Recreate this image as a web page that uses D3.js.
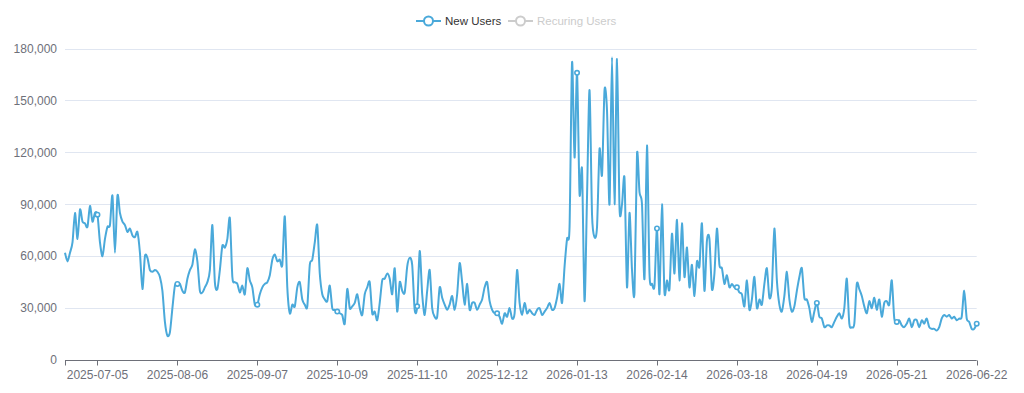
<!DOCTYPE html>
<html>
<head>
<meta charset="utf-8">
<title>New Users</title>
<script src="https://cdn.jsdelivr.net/npm/d3@7"></script>
<style>
  body { margin: 0; background: #fff; }
  #chart { width: 1024px; height: 393px; }
  text { font-family: "Liberation Sans", Arial, sans-serif; }
</style>
</head>
<body>
<div id="chart"></div>
<script>
// daily series, one value per day starting at startDay
var startDay = "2025-06-22";
var seriesNames = ["New Users", "Recuring Users"];
var newUsers = [
  62000,57000,62000,68000,85000,70000,87000,80000,79000,77000,89000,80000,85000,84000,68000,60000,
  70000,77000,78000,95000,62000,95000,85000,80000,78000,74000,76000,72000,71000,74000,62000,41000,
  60000,59000,52000,51000,52000,51000,48000,40000,22000,14000,16000,30000,43000,44000,44000,40000,
  39000,47000,52000,55000,64000,57000,40000,39000,42000,45000,52000,78000,45000,41000,52000,66000,
  65000,70000,82000,48000,45000,44000,39000,43000,38000,53000,46000,42000,32000,32000,38000,42000,
  44000,45000,49000,58000,61000,57000,58000,55000,83000,42000,27000,32000,31000,42000,45000,35000,
  32000,31000,55000,58000,68000,78000,50000,38000,35000,34000,43000,30000,29000,28000,27000,26000,
  21000,41000,30000,31000,33000,38000,30000,26000,38000,42000,45000,27000,28000,23000,33000,46000,
  47000,50000,47000,38000,53000,28000,45000,40000,39000,54000,59000,55000,29000,31000,63000,38000,
  26000,40000,52000,30000,25000,25000,42000,36000,32000,29000,32000,37000,29000,38000,56000,45000,
  32000,44000,29000,33000,33000,29000,32000,35000,42000,45000,34000,29000,27000,27000,25000,21000,
  27000,25000,30000,24000,27000,52000,33000,26000,33000,27000,29000,27000,26000,29000,30000,26000,
  28000,30000,33000,29000,30000,36000,44000,33000,54000,70000,77000,172000,117000,166000,96000,110000,
  34000,95000,156000,84000,71000,77000,122000,107000,156000,144000,90000,175000,90000,174000,88000,90000,
  105000,42000,85000,52000,39000,119000,97000,90000,47000,124000,50000,44000,43000,76000,38000,90000,
  39000,46000,41000,73000,50000,81000,46000,79000,48000,65000,42000,55000,37000,57000,54000,79000,
  40000,69000,70000,41000,50000,76000,55000,53000,44000,49000,42000,44000,42000,42000,39000,38000,
  31000,46000,29000,35000,48000,30000,35000,32000,44000,53000,36000,42000,76000,46000,32000,28000,
  37000,51000,35000,28000,31000,40000,48000,53000,36000,35000,30000,22000,28000,33000,25000,24000,
  19000,20000,20000,19000,22000,25000,27000,24000,30000,47000,21000,19000,21000,44000,41000,37000,
  31000,27000,34000,30000,36000,29000,35000,25000,33000,34000,32000,46000,24000,22000,23000,20000,
  19000,21000,24000,19000,23000,23000,19000,23000,21000,24000,19000,18000,18000,17000,19000,24000,
  26000,25000,26000,24000,25000,23000,24000,25000,40000,24000,22000,18000,18000,21000
];
var xTickLabels = ["2025-07-05","2025-08-06","2025-09-07","2025-10-09","2025-11-10","2025-12-12",
  "2026-01-13","2026-02-14","2026-03-18","2026-04-19","2026-05-21","2026-06-22"];
var yTicks = [0, 30000, 60000, 90000, 120000, 150000, 180000];

var width = 1024, height = 393;
var margin = {top: 48.6, right: 47.3, bottom: 33, left: 65};
var lineColor = "#4aa9da";
var axisColor = "#6e7079";

var parse = d3.timeParse("%Y-%m-%d");
var fmt = d3.timeFormat("%Y-%m-%d");
var dates = d3.timeDay.range(parse(startDay), d3.timeDay.offset(parse(startDay), newUsers.length)).map(fmt);

var svg = d3.select("#chart").append("svg")
  .attr("width", width)
  .attr("height", height);

var x = d3.scalePoint()
  .domain(dates)
  .range([margin.left, width - margin.right]);

var y = d3.scaleLinear()
  .domain([0, 180000])
  .range([height - margin.bottom, margin.top]);

// grid lines
svg.append("g")
  .selectAll("line")
  .data(yTicks.filter(function(d){ return d > 0; }))
  .enter()
  .append("line")
  .attr("x1", margin.left)
  .attr("x2", width - margin.right)
  .attr("y1", function(d){ return Math.round(y(d)) + 0.5; })
  .attr("y2", function(d){ return Math.round(y(d)) + 0.5; })
  .attr("stroke", "#e0e6f1")
  .attr("stroke-width", 1);

// y labels
svg.append("g")
  .selectAll("text")
  .data(yTicks)
  .enter()
  .append("text")
  .attr("x", margin.left - 8)
  .attr("y", function(d){ return y(d); })
  .attr("dy", "0.35em")
  .attr("text-anchor", "end")
  .attr("fill", axisColor)
  .attr("font-size", 12)
  .text(function(d){ return d3.format(",")(d); });

// x axis line, ticks, labels
var axisY = Math.round(y(0)) + 0.5;
svg.append("line")
  .attr("x1", margin.left)
  .attr("x2", width - margin.right)
  .attr("y1", axisY)
  .attr("y2", axisY)
  .attr("stroke", axisColor)
  .attr("stroke-width", 1);

svg.append("g")
  .selectAll("line")
  .data([dates[0]].concat(xTickLabels))
  .enter()
  .append("line")
  .attr("x1", function(d){ return Math.round(x(d)) + 0.5; })
  .attr("x2", function(d){ return Math.round(x(d)) + 0.5; })
  .attr("y1", axisY)
  .attr("y2", axisY + 5)
  .attr("stroke", axisColor);

svg.append("g")
  .selectAll("text")
  .data(xTickLabels)
  .enter()
  .append("text")
  .attr("x", function(d){ return x(d); })
  .attr("y", axisY + 18)
  .attr("text-anchor", "middle")
  .attr("fill", axisColor)
  .attr("font-size", 12)
  .text(function(d){ return d; });

// the series
var line = d3.line()
  .x(function(d, i){ return x(dates[i]); })
  .y(function(d){ return y(d); })
  .curve(d3.curveCardinal.tension(0.2));

svg.append("path")
  .datum(newUsers)
  .attr("d", line)
  .attr("fill", "none")
  .attr("stroke", lineColor)
  .attr("stroke-width", 2)
  .attr("stroke-linejoin", "round");

// symbols only where a label sits
svg.append("g")
  .selectAll("circle")
  .data(xTickLabels)
  .enter()
  .append("circle")
  .attr("cx", function(d){ return x(d); })
  .attr("cy", function(d){ return y(newUsers[dates.indexOf(d)]); })
  .attr("r", 2.2)
  .attr("fill", "#fff")
  .attr("stroke", lineColor)
  .attr("stroke-width", 1.6);

// legend
var legendColors = [lineColor, "#cccccc"];
var legendText = ["#333333", "#cccccc"];
var legendX = [416, 508];
var legend = svg.append("g")
  .selectAll("g")
  .data(seriesNames)
  .enter()
  .append("g")
  .attr("transform", function(d, i){ return "translate(" + legendX[i] + ",21)"; });

legend.append("line")
  .attr("x1", 0).attr("x2", 25)
  .attr("y1", 0).attr("y2", 0)
  .attr("stroke", function(d, i){ return legendColors[i]; })
  .attr("stroke-width", 2);

legend.append("circle")
  .attr("cx", 12.5).attr("cy", 0)
  .attr("r", 4.5)
  .attr("fill", "#fff")
  .attr("stroke", function(d, i){ return legendColors[i]; })
  .attr("stroke-width", 2);

legend.append("text")
  .attr("x", 29)
  .attr("y", 0)
  .attr("dy", "0.35em")
  .attr("font-size", 11.5)
  .attr("fill", function(d, i){ return legendText[i]; })
  .text(function(d){ return d; });
</script>
</body>
</html>
